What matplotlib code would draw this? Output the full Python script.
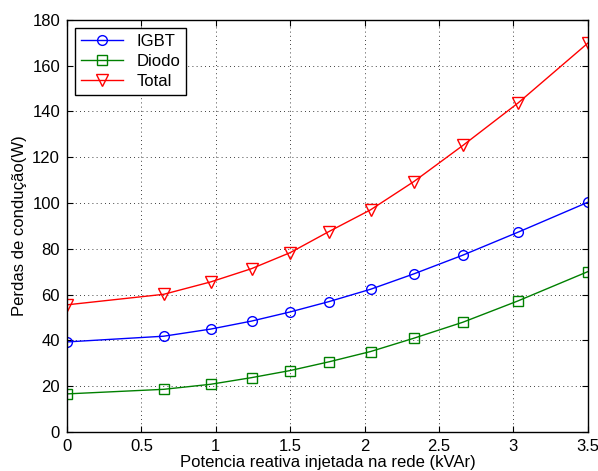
import matplotlib
matplotlib.use('Agg')
import matplotlib.pyplot as plt

plt.rcParams['font.family'] = ['Liberation Sans', 'DejaVu Sans']

# Reactive power injected (kVAr)
q = [0, 0.65, 0.965, 1.24, 1.50, 1.76, 2.04, 2.33, 2.66, 3.03, 3.5]
igbt = [39.3, 41.8, 44.9, 48.4, 52.4, 56.9, 62.3, 69.0, 77.2, 87.2, 100.3]
diodo = [16.6, 18.6, 20.8, 23.7, 26.8, 30.6, 35.1, 40.9, 47.9, 57.2, 70.0]
total = [55.5, 60.1, 65.5, 71.3, 78.3, 87.5, 97.0, 109.3, 125.1, 143.6, 169.8]

xticks = [0, 0.5, 1, 1.5, 2, 2.5, 3, 3.5]
xticklabels = ['0', '0.5', '1', '1.5', '2', '2.5', '3', '3.5']
yticks = list(range(0, 181, 20))

fig = plt.figure(figsize=(5.98, 4.71), dpi=100)
ax = fig.add_axes([0.112, 0.083, 0.871, 0.875])

ax.plot(q, igbt, '-o', color='b', mfc='none', ms=7, lw=1, label='IGBT')
ax.plot(q, diodo, '-s', color=(0, 0.5, 0), mfc='none', ms=6.5, lw=1, label='Diodo')
ax.plot(q, total, '-v', color='r', mfc='none', ms=8, lw=1, label='Total')

ax.set_xlim(0, 3.5)
ax.set_ylim(0, 180)
ax.set_xticks(xticks)
ax.set_xticklabels(xticklabels)
ax.set_yticks(yticks)
ax.tick_params(direction='in', top=True, right=True, labelsize=12, length=4, pad=5)
ax.grid(True, color='k', linestyle=(0, (1, 4)), linewidth=0.6)
for s in ax.spines.values():
    s.set_linewidth(1)

ax.set_xlabel('Potencia reativa injetada na rede (kVAr)', fontsize=12, labelpad=1)
ax.set_ylabel('Perdas de condução(W)', fontsize=12, labelpad=4)

leg = ax.legend(loc='upper left', fontsize=12, fancybox=False, edgecolor='k',
                framealpha=1, borderaxespad=0.5, handlelength=2.5,
                labelspacing=0.3, borderpad=0.35)
leg.get_frame().set_linewidth(1)

fig.savefig('out.png', dpi=100)
